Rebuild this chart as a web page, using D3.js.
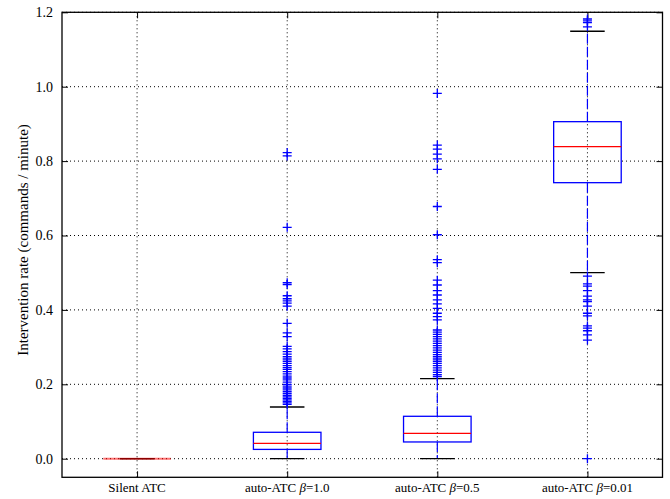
<!DOCTYPE html>
<html>
<head>
<meta charset="utf-8">
<script src="https://cdn.jsdelivr.net/npm/d3@7"></script>
<style>
  html, body { margin: 0; padding: 0; background: #fff; overflow: hidden; }
  svg { display: block; }
  text { font-family: "Liberation Serif", "Times New Roman", serif; fill: #000; }
</style>
</head>
<body>
<div class="chart"></div>
<script>
const categories = ["Silent ATC", "auto-ATC β=1.0", "auto-ATC β=0.5", "auto-ATC β=0.01"];
const labelPrefix = ["Silent ATC", "auto-ATC ", "auto-ATC ", "auto-ATC "];
const labelBeta = ["", "1.0", "0.5", "0.01"];
const q1 = [0, 0.025, 0.045, 0.742];
const median = [0, 0.041, 0.068, 0.839];
const q3 = [0, 0.071, 0.114, 0.906];
const whiskerLow = [0, 0, 0, 0.5];
const whiskerHigh = [0, 0.139, 0.215, 1.149];
const outliers = [
  [],
  [0.823, 0.814, 0.622, 0.473, 0.468, 0.438, 0.43, 0.424, 0.418, 0.41, 0.364, 0.338, 0.328,
   0.302, 0.295, 0.288, 0.281, 0.274, 0.268, 0.262, 0.256, 0.25, 0.245, 0.24, 0.234, 0.228,
   0.222, 0.217, 0.212, 0.206, 0.2, 0.195, 0.19, 0.185, 0.18, 0.175, 0.17, 0.166, 0.162,
   0.158, 0.154, 0.15, 0.146],
  [0.982, 0.843, 0.832, 0.819, 0.806, 0.778, 0.678, 0.602, 0.535, 0.527, 0.48, 0.467, 0.452,
   0.44, 0.427, 0.416, 0.404, 0.391, 0.382, 0.373, 0.346, 0.34, 0.334, 0.328, 0.322, 0.316,
   0.31, 0.304, 0.298, 0.292, 0.286, 0.28, 0.274, 0.268, 0.262, 0.256, 0.25, 0.244, 0.238,
   0.232, 0.226, 0.221],
  [1.182, 1.177, 1.172, 1.161, 0.491, 0.47, 0.464, 0.452, 0.437, 0.427, 0.422, 0.41, 0.391,
   0.384, 0.357, 0.351, 0.344, 0.333, 0.319, 0]
];
const yTicks = [0, 0.2, 0.4, 0.6, 0.8, 1.0, 1.2];
const yLabel = "Intervention rate (commands / minute)";

const svgWidth = 670;
const svgHeight = 499;
const margin = { top: 12.3, right: 7.5, bottom: 21.7, left: 62 };
const innerWidth = svgWidth - margin.left - margin.right;
const innerHeight = svgHeight - margin.top - margin.bottom;

const svg = d3.select(".chart").append("svg")
  .attr("width", svgWidth).attr("height", svgHeight);
const g = svg.append("g").attr("transform", `translate(${margin.left}, ${margin.top})`);

const xScale = d3.scaleLinear().domain([0.5, 4.5]).range([0, innerWidth]);
const yScale = d3.scaleLinear().domain([-0.05, 1.2]).range([innerHeight, 0]);
const pos = categories.map((c, i) => i + 1);

// grid
g.append("g").selectAll("line").data(yTicks).enter().append("line")
  .attr("x1", 0).attr("x2", innerWidth)
  .attr("y1", (d) => yScale(d)).attr("y2", (d) => yScale(d))
  .attr("stroke", "#000").attr("stroke-width", 1).attr("stroke-dasharray", "1,3");
g.append("g").selectAll("line").data(pos).enter().append("line")
  .attr("x1", (d) => xScale(d)).attr("x2", (d) => xScale(d))
  .attr("y1", 0).attr("y2", innerHeight)
  .attr("stroke", "#000").attr("stroke-width", 1).attr("stroke-dasharray", "1,3");

// axes
const yAxisG = g.append("g").call(d3.axisLeft(yScale).tickValues(yTicks).tickFormat(d3.format(".1f")).tickSize(-6).tickPadding(9));
yAxisG.select(".domain").remove();
yAxisG.selectAll("text").attr("font-size", 14).attr("font-family", "Liberation Serif");
const yAxisR = g.append("g").attr("transform", `translate(${innerWidth},0)`)
  .call(d3.axisRight(yScale).tickValues(yTicks).tickSize(-6));
yAxisR.selectAll(".domain, text").remove();

const xAxisG = g.append("g").attr("transform", `translate(0,${innerHeight})`)
  .call(d3.axisBottom(xScale).tickValues(pos).tickSize(-6));
xAxisG.selectAll(".domain, text").remove();
const xAxisT = g.append("g").call(d3.axisTop(xScale).tickValues(pos).tickSize(-6));
xAxisT.selectAll(".domain, text").remove();

const xLabels = g.append("g").selectAll("text").data(pos).enter().append("text")
  .attr("x", (d) => xScale(d)).attr("y", innerHeight + 15)
  .attr("text-anchor", "middle").attr("font-size", 13);
xLabels.append("tspan").text((d, i) => labelPrefix[i]);
xLabels.filter((d, i) => labelBeta[i]).append("tspan").attr("font-style", "italic").text("β");
xLabels.filter((d, i) => labelBeta[i]).append("tspan").text((d) => "=" + labelBeta[d - 1]);

g.append("text").attr("transform", "rotate(-90)")
  .attr("x", -(240 - margin.top)).attr("y", -34)
  .attr("text-anchor", "middle").attr("font-size", 15).text(yLabel);

// boxes
const boxW = 0.45;
const capW = 0.23;
const boxes = g.append("g").selectAll("g").data(pos).enter().append("g");
boxes.append("line")
  .attr("x1", (d) => xScale(d)).attr("x2", (d) => xScale(d))
  .attr("y1", (d, i) => yScale(q3[i])).attr("y2", (d, i) => yScale(whiskerHigh[i]))
  .attr("stroke", "#0000ff").attr("stroke-width", 1.2).attr("stroke-dasharray", "10,3");
boxes.append("line")
  .attr("x1", (d) => xScale(d)).attr("x2", (d) => xScale(d))
  .attr("y1", (d, i) => yScale(q1[i])).attr("y2", (d, i) => yScale(whiskerLow[i]))
  .attr("stroke", "#0000ff").attr("stroke-width", 1.2).attr("stroke-dasharray", "10,3");
boxes.append("line")
  .attr("x1", (d) => xScale(d - capW / 2)).attr("x2", (d) => xScale(d + capW / 2))
  .attr("y1", (d, i) => yScale(whiskerHigh[i])).attr("y2", (d, i) => yScale(whiskerHigh[i]))
  .attr("stroke", "#000").attr("stroke-width", 1.3);
boxes.append("line")
  .attr("x1", (d) => xScale(d - capW / 2)).attr("x2", (d) => xScale(d + capW / 2))
  .attr("y1", (d, i) => yScale(whiskerLow[i])).attr("y2", (d, i) => yScale(whiskerLow[i]))
  .attr("stroke", "#000").attr("stroke-width", 1.3);
boxes.append("rect")
  .attr("x", (d) => xScale(d - boxW / 2)).attr("width", xScale(boxW) - xScale(0))
  .attr("y", (d, i) => yScale(q3[i])).attr("height", (d, i) => yScale(q1[i]) - yScale(q3[i]))
  .attr("fill", "none").attr("stroke", "#0000ff")
  .attr("stroke-width", (d, i) => q3[i] === q1[i] ? 2 : 1.3);
boxes.append("line")
  .attr("x1", (d) => xScale(d - boxW / 2)).attr("x2", (d) => xScale(d + boxW / 2))
  .attr("y1", (d, i) => yScale(median[i])).attr("y2", (d, i) => yScale(median[i]))
  .attr("stroke", "#ff0000")
  .attr("stroke-width", (d, i) => q3[i] === q1[i] ? 2 : 1.2)
  .attr("stroke-opacity", (d, i) => q3[i] === q1[i] ? 0.55 : 1);

// outliers
const pts = [];
outliers.forEach((arr, i) => arr.forEach((v) => pts.push({ x: i + 1, v })));
g.append("g").selectAll("path").data(pts).enter().append("path")
  .attr("transform", (d) => `translate(${xScale(d.x)},${yScale(d.v)})`)
  .attr("d", "M-4.5,0H4.5M0,-4.5V4.5")
  .attr("stroke", "#0000ff").attr("stroke-width", 1.3).attr("fill", "none");

// frame
g.append("rect").attr("width", innerWidth).attr("height", innerHeight)
  .attr("fill", "none").attr("stroke", "#000").attr("stroke-width", 1.3);
</script>
</body>
</html>
